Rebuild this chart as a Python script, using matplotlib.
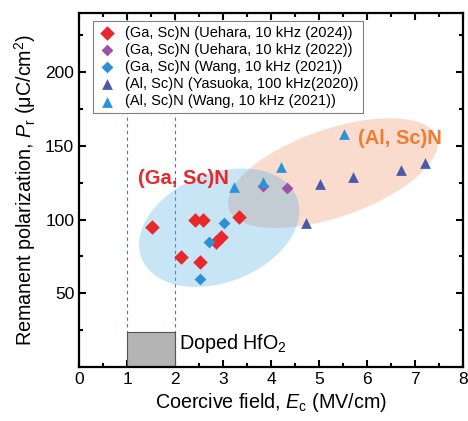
import numpy as np
import matplotlib
matplotlib.use("Agg")
import matplotlib.pyplot as plt
from matplotlib.patches import Ellipse, Rectangle
from matplotlib.transforms import ScaledTranslation
from matplotlib.ticker import MultipleLocator

plt.rcParams['font.family'] = ['Liberation Sans', 'DejaVu Sans']
plt.rcParams['mathtext.fontset'] = 'custom'
plt.rcParams['mathtext.rm'] = 'Liberation Sans'
plt.rcParams['mathtext.it'] = 'Liberation Sans:italic'

# data (Ec in MV/cm, Pr in uC/cm2)
gasc_uehara24_ec = [1.51, 2.12, 2.42, 2.59, 2.52, 2.85, 2.95, 3.33]
gasc_uehara24_pr = [94.7, 74.7, 99.7, 99.7, 71.5, 85.0, 88.0, 101.5]
gasc_uehara22_ec = [3.83, 4.33]
gasc_uehara22_pr = [123.0, 121.5]
gasc_wang_ec = [3.02, 2.71, 2.52]
gasc_wang_pr = [97.9, 84.5, 59.9]
alsc_yasuoka_ec = [4.72, 5.02, 5.71, 6.71, 7.21]
alsc_yasuoka_pr = [97.4, 124.2, 129.0, 133.8, 138.6]
alsc_wang_ec = [3.22, 3.83, 4.21, 5.52]
alsc_wang_pr = [122.4, 125.4, 135.6, 157.9]

hfo2_ec = [1.0, 2.0]
hfo2_pr = 24

fig = plt.figure(figsize=(4.68, 4.21), dpi=100)
ax = fig.add_axes([0.169, 0.128, 0.820, 0.841])

def add_ellipse(cx, cy, w_in, h_in, ang, color, alpha):
    tr = fig.dpi_scale_trans + ScaledTranslation(cx, cy, ax.transData)
    e = Ellipse((0, 0), w_in, h_in, angle=ang, transform=tr,
                facecolor=color, edgecolor='none', alpha=alpha, zorder=1)
    ax.add_patch(e)

add_ellipse(5.29, 131.5, 2.20, 0.88, 19, '#f4a582', 0.38)
add_ellipse(2.92, 94.5, 1.67, 1.09, 21.5, '#4aa9de', 0.30)

for xv in hfo2_ec:
    ax.axvline(xv, color='#5f6ad0', ls=(0, (3, 3)), lw=0.8, zorder=0.5)
ax.add_patch(Rectangle((hfo2_ec[0], 0), hfo2_ec[1] - hfo2_ec[0], hfo2_pr,
                       facecolor='#b4b4b4', edgecolor='#555555', lw=0.8, zorder=2))
ax.text(2.08, 16, 'Doped HfO$_2$', fontsize=14.2, va='center', ha='left')

ax.scatter(gasc_uehara24_ec, gasc_uehara24_pr, marker='D', s=55, color='#e8282b',
           label='(Ga, Sc)N (Uehara, 10 kHz (2024))', zorder=4, linewidths=0)
ax.scatter(gasc_uehara22_ec, gasc_uehara22_pr, marker='D', s=36, color='#9b52a8',
           label='(Ga, Sc)N (Uehara, 10 kHz (2022))', zorder=4, linewidths=0)
ax.scatter(gasc_wang_ec, gasc_wang_pr, marker='D', s=36, color='#2e8fd2',
           label='(Ga, Sc)N (Wang, 10 kHz (2021))', zorder=4, linewidths=0)
ax.scatter(alsc_yasuoka_ec, alsc_yasuoka_pr, marker='^', s=60, color='#4a59a8',
           label='(Al, Sc)N (Yasuoka, 100 kHz(2020))', zorder=4, linewidths=0)
ax.scatter(alsc_wang_ec, alsc_wang_pr, marker='^', s=60, color='#2b94d8',
           label='(Al, Sc)N (Wang, 10 kHz (2021))', zorder=5, linewidths=0)

ax.text(2.17, 128, '(Ga, Sc)N', color='#e8282b', fontsize=14.5, fontweight='bold',
        ha='center', va='center', zorder=6)
ax.text(6.69, 155, '(Al, Sc)N', color='#ee7d31', fontsize=14.5, fontweight='bold',
        ha='center', va='center', zorder=6)

ax.set_xlim(0, 8)
ax.set_ylim(0, 240)
ax.set_yticks([50, 100, 150, 200])
ax.xaxis.set_major_locator(MultipleLocator(1))
ax.xaxis.set_minor_locator(MultipleLocator(0.5))
ax.yaxis.set_minor_locator(MultipleLocator(25))
ax.tick_params(which='both', direction='in', top=True, right=True, labelsize=12.5, width=1.5)
ax.tick_params(which='major', length=5)
ax.tick_params(which='minor', length=3)
for sp in ax.spines.values():
    sp.set_linewidth(1.6)

ax.set_xlabel('Coercive field, $\\mathit{E}_\\mathrm{c}$ (MV/cm)', fontsize=14.2, labelpad=3)
ax.set_ylabel('Remanent polarization, $\\mathit{P}_\\mathrm{r}$ (\u03bcC/cm$^2$)', fontsize=14.2, labelpad=5)

leg = ax.legend(loc='upper left', bbox_to_anchor=(0.036, 0.977), fontsize=10.5,
                frameon=True, fancybox=False, edgecolor='#808080', framealpha=1,
                handletextpad=0.5, labelspacing=0.22, borderpad=0.3,
                handlelength=1.4, borderaxespad=0, scatterpoints=1)
leg.get_frame().set_linewidth(0.8)
leg.set_zorder(10)

fig.savefig('out.png', dpi=100)
